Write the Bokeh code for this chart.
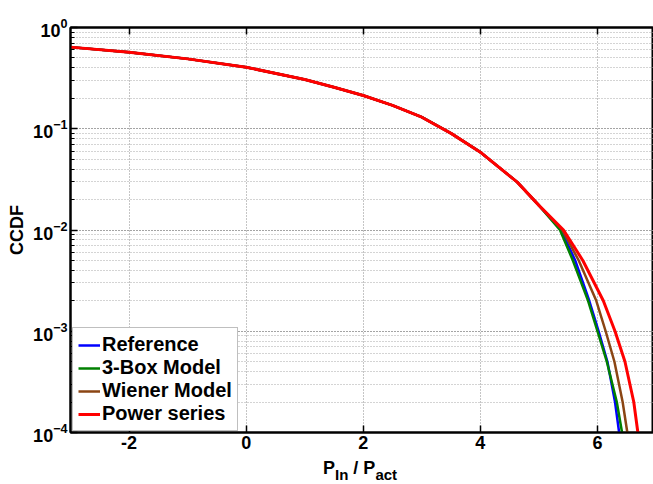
from bokeh.plotting import figure
from bokeh.models import LinearAxis, FixedTicker, LogTicker, Div
from bokeh.layouts import column
from bokeh.embed import file_html
from bokeh.resources import INLINE

# ---- data (x = P_In/P_act, y = CCDF) ----
x_common = [-3.0, -2.0, -1.0, 0.0, 1.0, 1.5, 2.0, 2.5, 3.0, 3.5, 4.0, 4.63, 5.0]
y_common = [0.64, 0.57, 0.49, 0.405, 0.307, 0.257, 0.213, 0.17, 0.13, 0.09, 0.0587, 0.0297, 0.0175]

x_ref_tail = [5.38, 5.62, 5.86, 6.02, 6.17, 6.30, 6.37]
y_ref_tail = [0.01, 0.005, 0.002, 0.001, 5e-4, 2e-4, 1e-4]

x_box_tail = [5.36, 5.58, 5.84, 6.00, 6.16, 6.33, 6.42]
y_box_tail = [0.01, 0.005, 0.002, 0.001, 5e-4, 2e-4, 1e-4]

x_wiener_tail = [5.40, 5.68, 5.98, 6.14, 6.29, 6.43, 6.51]
y_wiener_tail = [0.01, 0.005, 0.002, 0.001, 5e-4, 2e-4, 1e-4]

x_power_tail = [5.42, 5.75, 6.10, 6.30, 6.47, 6.62, 6.69]
y_power_tail = [0.01, 0.005, 0.002, 0.001, 5e-4, 2e-4, 1e-4]

series_names = ["Reference", "3-Box Model", "Wiener Model", "Power series"]
series_colors = ["#0000FF", "#008000", "#8B4513", "#FF0000"]
series_widths = [2.5, 2.5, 2.5, 3]
tails = [(x_ref_tail, y_ref_tail), (x_box_tail, y_box_tail),
         (x_wiener_tail, y_wiener_tail), (x_power_tail, y_power_tail)]

x_ticks = [-2, 0, 2, 4, 6]
x_tick_labels = ["-2", "0", "2", "4", "6"]

FONT = "Liberation Sans"

p = figure(width=653, height=458, x_range=(-3, 6.957), y_range=(1e-4, 1),
           y_axis_type="log", output_backend="svg", toolbar_location=None,
           min_border_left=70, min_border_right=0, min_border_top=27,
           min_border_bottom=26)

for (xt, yt), name, col, w in zip(tails, series_names, series_colors, series_widths):
    p.line(x_common + xt, y_common + yt, line_color=col, line_width=w,
           legend_label=name)

# axes
p.xaxis.ticker = FixedTicker(ticks=x_ticks)
p.xaxis.major_label_overrides = dict(zip(x_ticks, x_tick_labels))
p.xaxis.minor_tick_line_color = None
for ax in (p.xaxis[0], p.yaxis[0]):
    ax.major_label_text_font = FONT
    ax.major_label_text_font_style = "bold"
    ax.major_label_text_font_size = "18px"
    ax.major_label_text_color = "black"
    ax.axis_line_width = 2
    ax.axis_line_color = "black"
    ax.major_tick_in = 7
    ax.major_tick_out = 0
    ax.major_tick_line_width = 1.5
    ax.minor_tick_in = 4
    ax.minor_tick_out = 0
    ax.major_label_standoff = 3
p.yaxis.ticker = LogTicker(mantissas=[1], num_minor_ticks=10)
p.yaxis.axis_label = "CCDF"
p.yaxis.axis_label_text_font = FONT
p.yaxis.axis_label_text_font_style = "bold"
p.yaxis.axis_label_text_font_size = "18px"
p.yaxis.axis_label_text_color = "black"
p.yaxis.axis_label_standoff = 3

top = LinearAxis(ticker=FixedTicker(ticks=x_ticks),
                 major_label_overrides={t: "" for t in x_ticks},
                 major_label_text_font_size="1px", major_label_standoff=0,
                 axis_line_width=2, major_tick_in=7, major_tick_out=0,
                 major_tick_line_width=1.5, minor_tick_line_color=None)
p.add_layout(top, "above")

p.outline_line_color = "black"
p.outline_line_width = 2

# grid
p.xgrid.grid_line_color = "#8a8a8a"
p.xgrid.grid_line_dash = "1 2"
p.ygrid.grid_line_color = "#8a8a8a"
p.ygrid.grid_line_dash = "1 2"
p.ygrid.minor_grid_line_color = "#a8a8a8"
p.ygrid.minor_grid_line_dash = "1 2"

# legend
lg = p.legend[0]
lg.location = (2, 1)
lg.margin = 0
lg.padding = 5
lg.spacing = 0
lg.label_height = 20
lg.glyph_height = 20
lg.glyph_width = 22
lg.label_standoff = 2
lg.label_text_font = FONT
lg.label_text_font_style = "bold"
lg.label_text_font_size = "20px"
lg.label_text_color = "black"
lg.border_line_color = "#808080"
lg.border_line_width = 1
lg.background_fill_color = "white"
lg.background_fill_alpha = 1

# x-axis label with subscripts, as real HTML text
sub = '<span style="font-size:15px; position:relative; top:6px;">'
xlabel = Div(
    text=('<div style="position:relative; top:1px; padding-left:323px; '
          'font-family:\'Liberation Sans\'; font-weight:bold; font-size:18px; '
          'line-height:18px; color:black; white-space:nowrap;">'
          'P' + sub + 'In</span> / P' + sub + 'act</span>'
          '</div>'),
    width=653, height=26, margin=(0, 0, 0, 0))

layout = column(p, xlabel, spacing=0)

open("out.html", "w").write(file_html(layout, INLINE))
